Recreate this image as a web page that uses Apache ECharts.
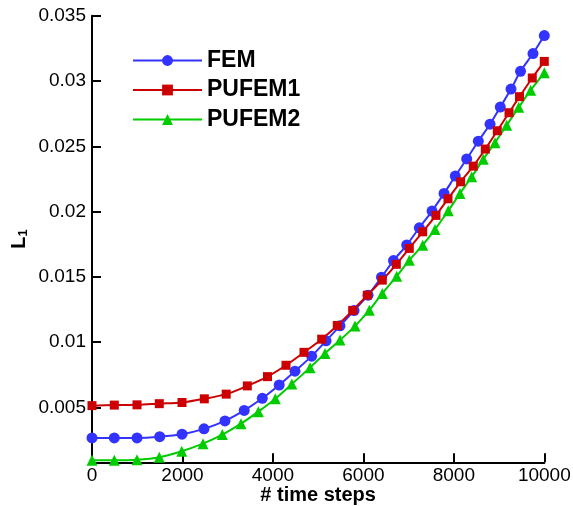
<!DOCTYPE html>
<html>
<head>
<meta charset="utf-8">
<script src="https://cdn.jsdelivr.net/npm/echarts@6/dist/echarts.min.js"></script>
<style>
  html, body { margin: 0; padding: 0; background: #fff; }
  #chart { width: 573px; height: 506px; }
</style>
</head>
<body>
<div id="chart"></div>
<script>
// L1 error versus number of time steps for the three methods
const seriesNames = ['FEM', 'PUFEM1', 'PUFEM2'];

const femSteps = [0, 493, 995, 1497, 1990, 2476, 2940, 3365, 3765, 4139, 4488, 4857, 5174, 5483,
  5793, 6103, 6400, 6666, 6958, 7237, 7518, 7783, 8032, 8284, 8541, 8800, 9027, 9264, 9474, 9750, 10000];
const femL1 = [0.00267, 0.00267, 0.00267, 0.00276, 0.00295, 0.00336, 0.00397, 0.00477, 0.0057, 0.00672,
  0.00778, 0.00893, 0.0101, 0.01125, 0.01242, 0.0136, 0.01498, 0.01625, 0.01744, 0.01876, 0.02004,
  0.02139, 0.02272, 0.02403, 0.02539, 0.02669, 0.028, 0.02938, 0.03074, 0.0321, 0.03348];

const pufem1Steps = [0, 493, 995, 1488, 1990, 2483, 2967, 3434, 3880, 4289, 4687, 5078, 5423, 5764,
  6087, 6418, 6728, 7015, 7311, 7605, 7871, 8150, 8430, 8696, 8961, 9220, 9452, 9734, 10000];
const pufem1L1 = [0.00514, 0.00518, 0.0052, 0.00529, 0.00538, 0.00566, 0.00602, 0.00665, 0.00736, 0.00823,
  0.00922, 0.01023, 0.01128, 0.01243, 0.0136, 0.01475, 0.01596, 0.01718, 0.01845, 0.01971, 0.02098,
  0.02228, 0.02348, 0.02479, 0.02619, 0.02757, 0.0288, 0.03023, 0.0315];

const pufem2Steps = [0, 493, 995, 1488, 1985, 2454, 2881, 3294, 3677, 4053, 4418, 4820, 5151, 5483,
  5815, 6131, 6418, 6737, 7015, 7311, 7584, 7877, 8136, 8395, 8651, 8910, 9169, 9434, 9699, 10000];
const pufem2L1 = [0.00096, 0.00096, 0.001, 0.00119, 0.00165, 0.00223, 0.00292, 0.00376, 0.00468, 0.00567,
  0.00679, 0.00805, 0.00914, 0.01016, 0.01123, 0.01245, 0.01373, 0.01505, 0.01628, 0.01743, 0.01863,
  0.02006, 0.02139, 0.02266, 0.024, 0.02527, 0.02662, 0.02798, 0.0293, 0.03063];

const yTicks = [0.005, 0.01, 0.015, 0.02, 0.025, 0.03, 0.035];
const yTickLabels = ['0.005', '0.01', '0.015', '0.02', '0.025', '0.03', '0.035'];
const xTicks = [0, 2000, 4000, 6000, 8000, 10000];
const xTickLabels = ['0', '2000', '4000', '6000', '8000', '10000'];

function pairs(xs, ys) {
  return xs.map((x, i) => [x, ys[i]]);
}

function labelFor(ticks, labels) {
  return function (v) {
    const i = ticks.findIndex(t => Math.abs(t - v) < 1e-9);
    return i >= 0 ? labels[i] : '';
  };
}

const FONT = 'Liberation Sans, Arial, sans-serif';
const axisCommon = {
  axisLine: { show: true, onZero: false, lineStyle: { color: '#000', width: 2 } },
  axisTick: { show: true, inside: true, length: 9, lineStyle: { color: '#000', width: 2 } },
  splitLine: { show: false },
  axisLabel: { color: '#000', fontFamily: FONT, fontSize: 19 }
};

function lineSeries(name, data, color, symbol, size) {
  return {
    name: name,
    type: 'line',
    data: data,
    smooth: 0.3,
    symbol: symbol,
    symbolSize: size,
    showAllSymbol: true,
    clip: false,
    itemStyle: { color: color },
    lineStyle: { color: color, width: 2 },
    emphasis: { disabled: true },
    animation: false
  };
}

const chart = echarts.init(document.getElementById('chart'), null, { renderer: 'canvas' });
chart.setOption({
  backgroundColor: '#fff',
  animation: false,
  grid: { left: 92, right: 28.7, top: 15.7, bottom: 43.7, outerBoundsMode: 'none', containLabel: false },
  legend: {
    data: seriesNames,
    orient: 'vertical',
    left: 132,
    top: 49,
    padding: 0,
    itemWidth: 69,
    itemHeight: 13.5,
    itemGap: 6.5,
    textStyle: { fontFamily: FONT, fontSize: 23, fontWeight: 'bold', color: '#000' },
    selectedMode: false
  },
  xAxis: Object.assign({}, axisCommon, {
    type: 'value',
    min: xTicks[0],
    max: xTicks[xTicks.length - 1],
    interval: 2000,
    name: '# time steps',
    nameLocation: 'middle',
    nameGap: 23,
    nameMoveOverlap: false,
    nameTextStyle: { fontFamily: FONT, fontSize: 20, fontWeight: 'bold', color: '#000' },
    axisLabel: Object.assign({}, axisCommon.axisLabel, {
      margin: 4,
      formatter: labelFor(xTicks, xTickLabels)
    })
  }),
  yAxis: Object.assign({}, axisCommon, {
    type: 'value',
    min: 0.0008,
    max: 0.035,
    name: '{l|L}{s|1}',
    nameLocation: 'middle',
    nameRotate: 90,
    nameGap: 62,
    nameMoveOverlap: false,
    nameTextStyle: {
      rich: {
        l: { fontFamily: FONT, fontSize: 20, fontWeight: 'bold', color: '#000' },
        s: { fontFamily: FONT, fontSize: 13, fontWeight: 'bold', color: '#000', padding: [9, 0, 0, 0] }
      }
    },
    axisTick: Object.assign({}, axisCommon.axisTick, { customValues: yTicks }),
    axisLabel: Object.assign({}, axisCommon.axisLabel, {
      margin: 6,
      customValues: yTicks,
      formatter: labelFor(yTicks, yTickLabels)
    })
  }),
  series: [
    lineSeries('FEM', pairs(femSteps, femL1), '#3333ff', 'circle', 11),
    lineSeries('PUFEM1', pairs(pufem1Steps, pufem1L1), '#cc0000', 'rect', 9),
    lineSeries('PUFEM2', pairs(pufem2Steps, pufem2L1), '#00cc00', 'triangle', 11)
  ]
});
</script>
</body>
</html>
